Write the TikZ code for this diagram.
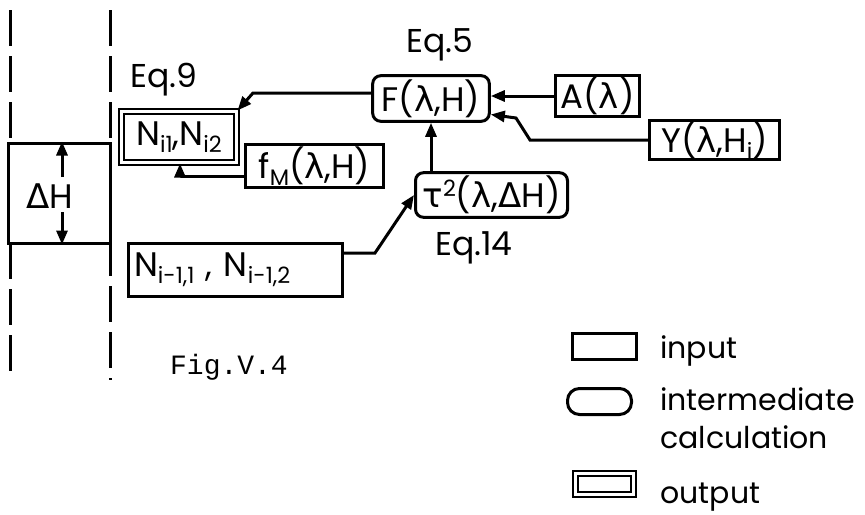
\documentclass[tikz,border=0pt]{standalone}
\usepackage{fontspec}
\usepackage{graphicx}
\setmainfont{Poppins}
\newfontfamily\gk{DejaVu Sans}
\setmonofont{Liberation Mono}
\usetikzlibrary{arrows.meta}
\newcommand\lam{{\gk λ}}
\newcommand\sbx[1]{\raisebox{-0.4ex}{\scalebox{0.66}{#1}}}
\newcommand\spx[1]{\raisebox{0.6ex}{\scalebox{0.66}{#1}}}
\begin{document}
\begin{tikzpicture}[x=0.5pt,y=-0.5pt,
  box/.style={draw, line width=1.5pt, inner sep=0pt, font=\fontsize{17}{18}\selectfont},
  rbox/.style={box, rounded corners=4pt},
  obox/.style={box, double, double distance=1.3pt, line width=1.2pt},
  conn/.style={line width=1.5pt, -{Triangle[length=7pt,width=5.5pt]}},
  lbl/.style={font=\fontsize{16.5}{17}\selectfont, inner sep=0pt},
  leg/.style={font=\fontsize{15}{16}\selectfont, anchor=base west, inner sep=0pt},
  dline/.style={line width=1.5pt, dash pattern=on 18pt off 5pt}]
\useasboundingbox (0,0) rectangle (865,514);

% dashed separators
\coordinate (l1a) at (10,10);
\coordinate (l1b) at (10,143);
\coordinate (l1c) at (10,243);
\coordinate (l1d) at (10,380);
\coordinate (l2a) at (110,10);
\coordinate (l2d) at (110,380);
\draw[dline] (l1a) -- (l1b);
\draw[dline] (l1c) -- (l1d);
\draw[dline] (l2a) -- (l2d);

% Delta H box
\node[box, fill=white, minimum width=51pt, minimum height=50pt] (DH) at (59,193) {};
\node[font=\fontsize{17}{18}\selectfont, inner sep=0pt] (DHt) at (50,196) {{\gk Δ}H};
\coordinate (dhu) at (62,177);
\coordinate (dhd) at (62,212);
\draw[conn] (dhu) -- (dhu |- DH.north);
\draw[conn] (dhd) -- (dhd |- DH.south);

% boxes
\node[obox, minimum width=57.3pt, minimum height=25.3pt] (Nout) at (179,137) {N\sbx{i1},N\sbx{i2}};
\node[box, minimum width=69pt, minimum height=21.5pt] (fM) at (314.5,166) {f\sbx{M}(\lam,H)};
\node[rbox, minimum width=58.3pt, minimum height=22.8pt] (F) at (431,98.5) {F(\lam,H)};
\node[box, minimum width=42pt, minimum height=20.3pt] (A) at (597.5,96) {A(\lam)};
\node[box, minimum width=65pt, minimum height=19.3pt] (Y) at (714.5,140) {Y(\lam,H\sbx{i})};
\node[rbox, minimum width=76pt, minimum height=22.3pt] (tau) at (491.5,195) {{\gk τ}\spx{2}(\lam,{\gk Δ}H)};
\node[box, minimum height=26.3pt, inner xsep=3pt, text width=101pt, align=left] (Nprev) at (235,270) {N\sbx{i-1,1} , N\sbx{i-1,2}};

% labels
\node[lbl] (Eq9) at (164,80) {Eq.9};
\node[lbl] (Eq5) at (440,45) {Eq.5};
\node[lbl] (Eq14) at (474,248) {Eq.14};
\node[font=\ttfamily\fontsize{14}{14}\selectfont, inner sep=0pt] (Fig) at (229,367) {Fig.V.4};

% connectors
\coordinate (c1) at (253,93);
\draw[conn] ([yshift=2.75pt]F.west) -- (c1) -- (Nout.north east);
\coordinate (c2) at (180,176);
\draw[conn] ([yshift=-5pt]fM.west) -- (c2) -- (c2 |- Nout.south);
\draw[conn] (A.west) -- (A.west -| F.east);
\coordinate (c3) at (530,140);
\coordinate (c4) at (516,118);
\draw[conn] (Y.west) -- (c3) -- (c4) -- ([yshift=-8pt]F.east);
\draw[conn] (tau.north -| F.south) -- (F.south);
\coordinate (c5) at (375,253);
\draw[conn] ([yshift=8.5pt]Nprev.east) -- (c5) -- (tau.west);

% legend
\node[box, minimum width=32pt, minimum height=13pt] (Li) at (604.5,346.5) {};
\node[box, rounded corners=6pt, minimum width=32pt, minimum height=13pt] (Lc) at (599.5,401.5) {};
\node[obox, minimum width=29pt, minimum height=10.5pt] (Lo) at (604.5,484) {};
\node[leg] (Tin) at (660,358) {input};
\node[leg] (Tint) at (660,410) {intermediate};
\node[leg] (Tcal) at (660,448) {calculation};
\node[leg] (Tout) at (660,503) {output};
\end{tikzpicture}
\end{document}
